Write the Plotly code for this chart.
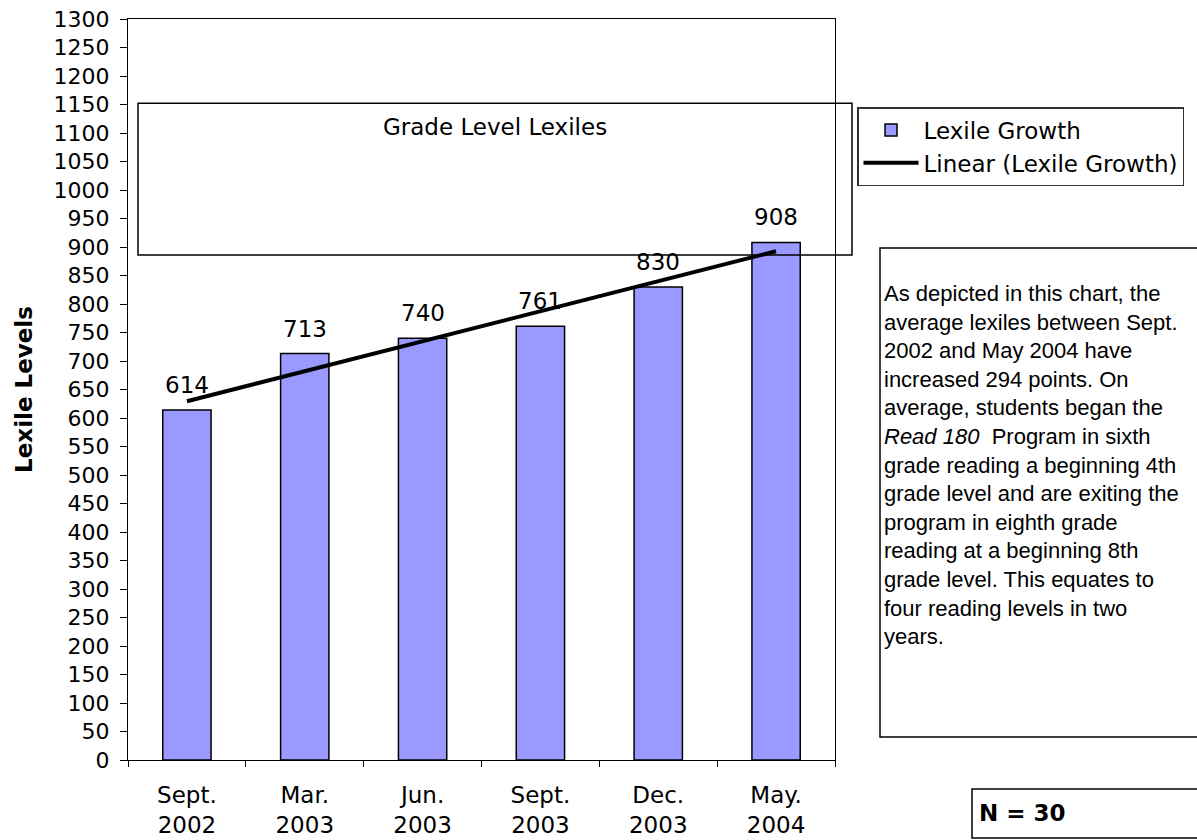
import numpy as np
import plotly.graph_objects as go

categories = ["Sept.<br>2002", "Mar.<br>2003", "Jun.<br>2003", "Sept.<br>2003", "Dec.<br>2003", "May.<br>2004"]
lexile = [614, 713, 740, 761, 830, 908]
y_ticks = list(range(0, 1301, 50))

# linear trend line (least-squares fit of the series)
idx = np.arange(len(lexile))
slope, intercept = np.polyfit(idx, lexile, 1)
trend = (slope * idx + intercept).tolist()

FONT = "DejaVu Sans, Liberation Sans, Arial, sans-serif"
BODY_FONT = "Liberation Sans, Arial, sans-serif"
FS = 22

fig = go.Figure()
fig.add_trace(go.Bar(
    x=categories, y=lexile, name="Lexile Growth", width=0.41,
    marker=dict(color="#9999FF", line=dict(color="black", width=1.5)),
))
fig.add_trace(go.Scatter(
    x=categories, y=trend, mode="lines", name="Linear (Lexile Growth)",
    line=dict(color="black", width=4),
))

annotations = []
for c, v in zip(categories, lexile):
    annotations.append(dict(x=c, y=v, xref="x", yref="y", text=str(v), showarrow=False,
                            yanchor="bottom", yshift=10, font=dict(size=23, color="black", family=FONT)))

PX0, PX1 = 128, 835
PY0, PY1 = 19, 760
def px(x):
    return (x - PX0) / (PX1 - PX0)
def py(y):
    return (PY1 - y) / (PY1 - PY0)

shapes = [
    dict(type="rect", xref="paper", yref="y", x0=px(138), x1=px(852), y0=886, y1=1152,
         line=dict(color="black", width=1.5), fillcolor="rgba(0,0,0,0)", layer="above"),
    dict(type="rect", xref="paper", yref="paper", x0=px(880), x1=px(1215), y0=py(737), y1=py(248),
         line=dict(color="black", width=1.5), fillcolor="white", layer="below"),
    dict(type="rect", xref="paper", yref="paper", x0=px(972), x1=px(1215), y0=py(838), y1=py(789),
         line=dict(color="black", width=1.5), fillcolor="white", layer="below"),
]
annotations.append(dict(x=px(495), y=py(127), xref="paper", yref="paper", text="Grade Level Lexiles",
                        showarrow=False, xanchor="center", yanchor="middle",
                        font=dict(size=23, color="black", family=FONT)))

body = ("As depicted in this chart, the<br>average lexiles between Sept.<br>2002 and May 2004 have<br>"
        "increased 294 points. On<br>average, students began the<br><i>Read 180</i>  Program in sixth<br>"
        "grade reading a beginning 4th<br>grade level and are exiting the<br>program in eighth grade<br>"
        "reading at a beginning 8th<br>grade level. This equates to<br>four reading levels in two<br>years.")
annotations.append(dict(x=px(882), y=py(279), xref="paper", yref="paper", text=body, showarrow=False,
                        xanchor="left", yanchor="top", align="left",
                        font=dict(size=22, color="black", family=BODY_FONT)))
annotations.append(dict(x=px(977), y=py(813), xref="paper", yref="paper", text="<b>N = 30</b>",
                        showarrow=False, xanchor="left", yanchor="middle",
                        font=dict(size=23, color="black", family=FONT)))

fig.update_layout(
    width=1197, height=840, autosize=False,
    margin=dict(l=PX0, r=1197 - PX1, t=PY0, b=840 - PY1, autoexpand=False),
    paper_bgcolor="white", plot_bgcolor="white",
    font=dict(family=FONT, size=FS, color="black"),
    showlegend=True,
    legend=dict(x=px(857), y=py(107), xanchor="left", yanchor="top",
                bgcolor="white", bordercolor="#333333", borderwidth=1.5,
                font=dict(size=23, color="black", family=FONT),
                traceorder="normal", itemwidth=55, tracegroupgap=0),
    shapes=shapes,
    annotations=annotations,
)
fig.update_xaxes(
    type="category", tickson="boundaries", ticks="outside", ticklen=6, tickcolor="black",
    showline=True, linecolor="black", linewidth=1, mirror=True, showgrid=False, automargin=False,
    tickfont=dict(size=23, color="black", family=FONT), ticklabelstandoff=14,
)
fig.update_yaxes(
    range=[0, 1300], tickvals=y_ticks, ticks="outside", ticklen=7, tickcolor="black",
    showline=True, linecolor="black", linewidth=1, mirror=True, showgrid=False, zeroline=False,
    automargin=False,
    tickfont=dict(size=FS, color="black", family=FONT), ticklabelstandoff=6,
    title=dict(text="<b>Lexile Levels</b>", font=dict(size=23, color="black", family=FONT), standoff=14),
)

fig.write_html("out.html", config={"displayModeBar": False},
               post_script="document.body.style.margin='0';document.body.style.overflow='hidden';")
